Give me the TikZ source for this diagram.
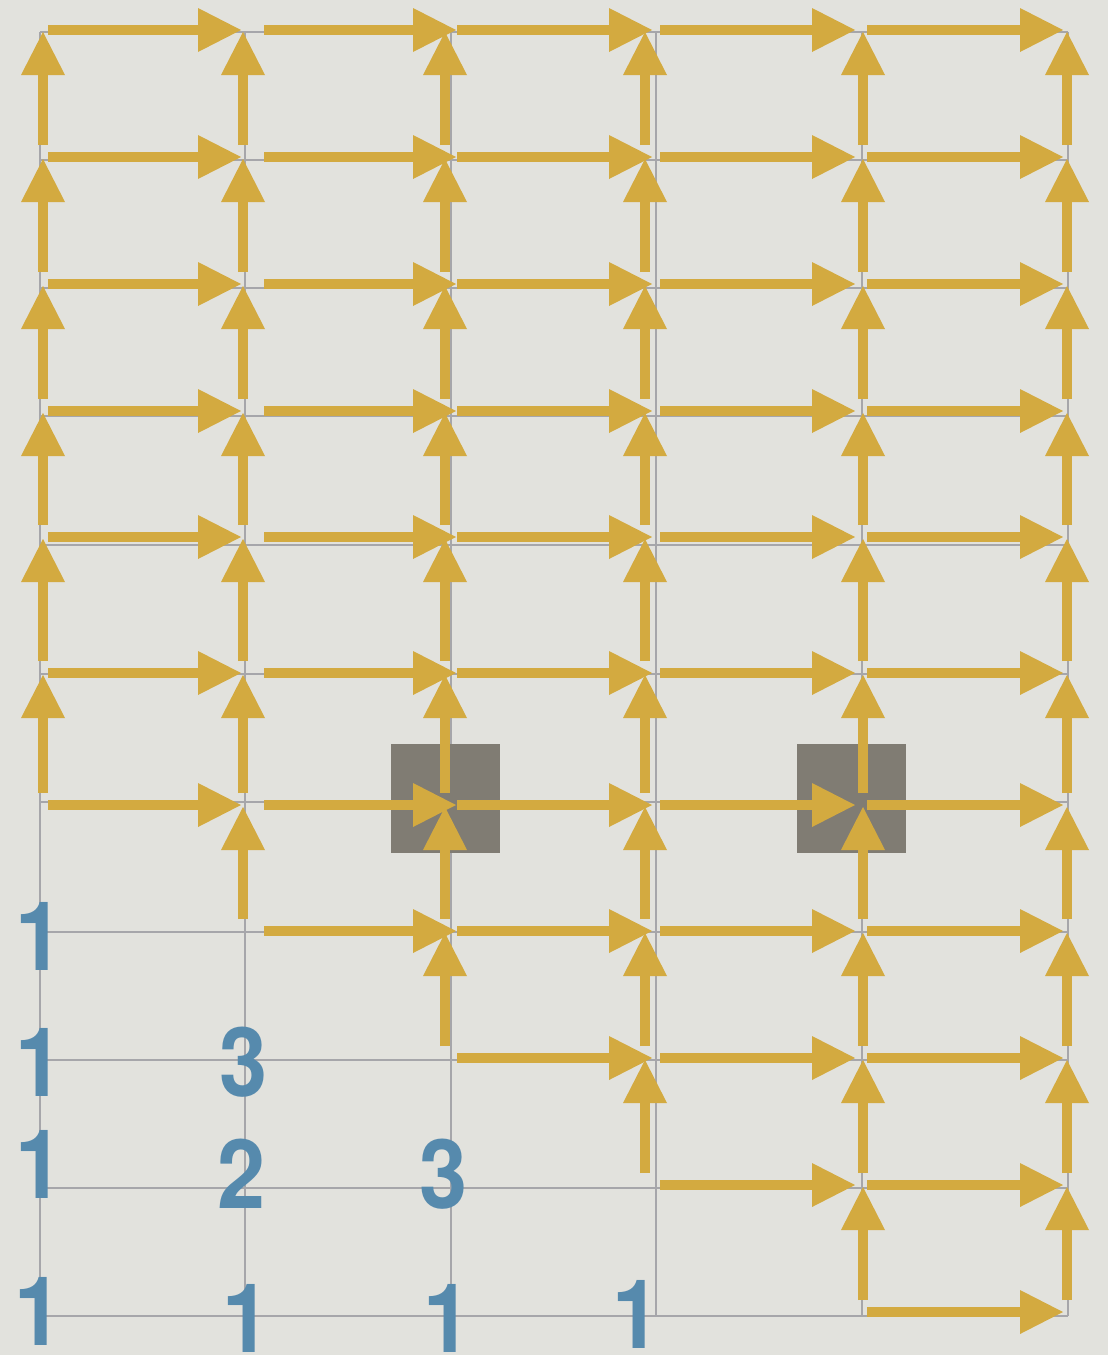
\documentclass[tikz,border=0pt]{standalone}
\usepackage{fontspec}
\newfontfamily\numfont[FakeStretch=0.9]{TeX Gyre Heros}
\usetikzlibrary{arrows.meta}
\definecolor{bg}{RGB}{226,226,221}
\definecolor{gridc}{RGB}{166,166,170}
\definecolor{gold}{RGB}{211,170,64}
\definecolor{blk}{RGB}{128,124,115}
\definecolor{numc}{RGB}{86,138,173}
\tikzset{
  gridline/.style={draw=gridc,line width=2.5pt},
  arrline/.style={draw=gold,line width=10pt,-{Triangle[length=43pt,width=44pt,line width=0pt]}},
  harr/.style={arrline},
  varr/.style={arrline,shorten <=12pt,shorten >=2pt},
  blockbox/.style={fill=blk,draw=none,minimum size=109pt,inner sep=0pt},
  numlabel/.style={text=numc,font=\numfont\bfseries\fontsize{96}{96}\selectfont,inner sep=0pt}
}
\begin{document}
\begin{tikzpicture}[x=1pt,y=-1pt]
\useasboundingbox (0,0) rectangle (1108,1355);
\fill[bg] (0,0) rectangle (1108,1355);
% grid points
\foreach \xg [count=\i from 0] in {40,245,451,656,862,1068}{
  \foreach \yg [count=\j from 0] in {1316,1188,1060,932,802,674,545,416,288,160,32}{
    \coordinate (g-\i-\j) at (\xg,\yg);
  }
}
% arrow track points
\foreach \xt [count=\i from 0] in {43,243,445,645,863,1067}{
  \foreach \yt [count=\j from 0] in {1312,1185,1058,931,805,673,537,411,284,157,30}{
    \coordinate (t-\i-\j) at (\xt,\yt);
  }
}
% grid
\foreach \j in {0,...,10}{\draw[gridline] (g-0-\j) -- (g-5-\j);}
\foreach \i in {0,...,5}{\draw[gridline] (g-\i-0) -- (g-\i-10);}
% blocks
\node[blockbox] (blockA) at (445.5,798.5) {};
\node[blockbox] (blockB) at (851,798.5) {};
% horizontal arrows
\foreach \i/\s/\e in {0/5/2,1/21/-11,2/12/-7,3/15/8,4/4/4}{
  \foreach \j in {0,...,10}{
    \pgfmathtruncatemacro{\ok}{(\i+\j)>=4}
    \pgfmathtruncatemacro{\ni}{\i+1}
    \ifnum\ok=1
      \draw[harr,shorten <=\s pt,shorten >=\e pt] (t-\i-\j) -- (t-\ni-\j);
    \fi
  }
}
% vertical arrows
\foreach \i in {0,...,5}{
  \foreach \j in {0,...,9}{
    \pgfmathtruncatemacro{\ok}{(\i+\j)>=4}
    \pgfmathtruncatemacro{\nj}{\j+1}
    \ifnum\ok=1
      \draw[varr] (t-\i-\j) -- (t-\i-\nj);
    \fi
  }
}
% numbers
\node[numlabel] (n03) at (40,936) {1};
\node[numlabel] (n02) at (40,1062) {1};
\node[numlabel] (n12) at (244,1062) {3};
\node[numlabel] (n01) at (40,1164) {1};
\node[numlabel] (n11) at (242,1174) {2};
\node[numlabel] (n21) at (444,1174) {3};
\node[numlabel] (n00) at (39,1311) {1};
\node[numlabel] (n10) at (247,1318) {1};
\node[numlabel] (n20) at (448,1318) {1};
\node[numlabel] (n30) at (637,1314) {1};
\end{tikzpicture}
\end{document}
